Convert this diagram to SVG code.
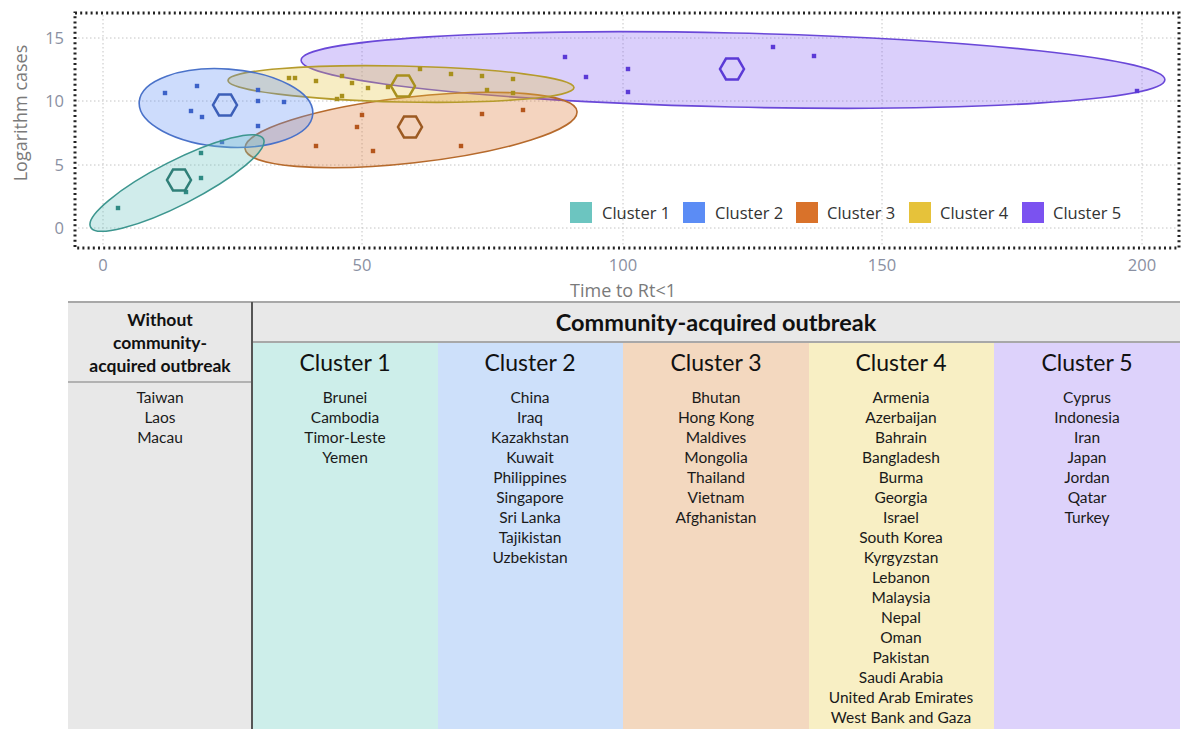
<svg xmlns="http://www.w3.org/2000/svg" xmlns:xlink="http://www.w3.org/1999/xlink" width="1183" height="729" viewBox="0 0 1183 729">
<style>
.grid{stroke:#c4c4c4;stroke-width:1;stroke-dasharray:1.5 2.5;fill:none}
.frame{stroke:#222;stroke-width:3;stroke-dasharray:2 3.2;fill:none}
.tick{font-family:"Open Sans","Liberation Sans",sans-serif;font-size:16.5px;fill:#8a90a2}
.axt{font-family:"Open Sans","Liberation Sans",sans-serif;font-size:18px;fill:#7a7a7a}
.leg{font-family:"Open Sans","Liberation Sans",sans-serif;font-size:16.5px;fill:#333}
.hex{fill:none;stroke-width:2.5}
.c1e{fill:#6cc5c0;fill-opacity:0.32;stroke:#3d968f;stroke-width:1.6}
.c2e{fill:#5b8cf5;fill-opacity:0.3;stroke:#4a72c9;stroke-width:1.6}
.c3e{fill:#d9722a;fill-opacity:0.3;stroke:#b66a2c;stroke-width:1.6}
.c4e{fill:#e6c23a;fill-opacity:0.3;stroke:#b59b2c;stroke-width:1.6}
.c5e{fill:#7b52f0;fill-opacity:0.28;stroke:#6a48d8;stroke-width:1.6}
.hd{font-family:Lato,"Open Sans",sans-serif;font-weight:bold;fill:#111}
.ct{font-family:Lato,"Open Sans",sans-serif;font-size:23px;fill:#111;text-anchor:middle}
.li{font-family:Lato,"Open Sans",sans-serif;font-size:15.5px;fill:#1a1a1a;text-anchor:middle}
</style>
<defs>
<path id="hx" d="M12,0 L6,-10.4 L-6,-10.4 L-12,0 L-6,10.4 L6,10.4 Z"/>
<rect id="pt" x="-2.2" y="-2.2" width="4.4" height="4.4"/>
</defs>
<rect width="1183" height="729" fill="#fff"/>

<g id="chart">
<g id="gridlines">
<line class="grid" x1="78" y1="38" x2="1177" y2="38"/>
<line class="grid" x1="78" y1="101" x2="1177" y2="101"/>
<line class="grid" x1="78" y1="165" x2="1177" y2="165"/>
<line class="grid" x1="78" y1="228" x2="1177" y2="228"/>
<line class="grid" x1="103" y1="15" x2="103" y2="246"/>
<line class="grid" x1="362" y1="15" x2="362" y2="246"/>
<line class="grid" x1="623" y1="15" x2="623" y2="246"/>
<line class="grid" x1="882" y1="15" x2="882" y2="246"/>
<line class="grid" x1="1142" y1="15" x2="1142" y2="246"/>
</g>
<rect class="frame" x="75" y="13" width="1104" height="235"/>
<g id="ticks">
<text class="tick" x="64" y="44" text-anchor="end">15</text>
<text class="tick" x="64" y="107" text-anchor="end">10</text>
<text class="tick" x="64" y="171" text-anchor="end">5</text>
<text class="tick" x="64" y="234" text-anchor="end">0</text>
<text class="tick" x="103" y="271" text-anchor="middle">0</text>
<text class="tick" x="362" y="271" text-anchor="middle">50</text>
<text class="tick" x="623" y="271" text-anchor="middle">100</text>
<text class="tick" x="882" y="271" text-anchor="middle">150</text>
<text class="tick" x="1142" y="271" text-anchor="middle">200</text>
<text class="axt" x="623" y="297" text-anchor="middle">Time to Rt&lt;1</text>
<text class="axt" transform="translate(27,113) rotate(-90)" text-anchor="middle">Logarithm cases</text>
</g>

<g id="cluster5">
<ellipse class="c5e" cx="733" cy="70" rx="432" ry="37" transform="rotate(1.3 733 70)"/>
<g fill="#5b3ad6">
<use xlink:href="#pt" x="565" y="57"/><use xlink:href="#pt" x="586" y="77"/>
<use xlink:href="#pt" x="628" y="69"/><use xlink:href="#pt" x="628" y="92"/>
<use xlink:href="#pt" x="773" y="47"/><use xlink:href="#pt" x="814" y="56"/>
<use xlink:href="#pt" x="1137" y="91"/>
</g>
<use xlink:href="#hx" class="hex" stroke="#5b3ad6" x="732" y="69"/>
</g>

<g id="cluster3">
<ellipse class="c3e" cx="411" cy="130" rx="167" ry="33" transform="rotate(-6.4 411 130)"/>
<g fill="#b5561c">
<use xlink:href="#pt" x="316" y="146"/><use xlink:href="#pt" x="362" y="115"/>
<use xlink:href="#pt" x="357" y="127"/><use xlink:href="#pt" x="373" y="151"/>
<use xlink:href="#pt" x="482" y="114"/><use xlink:href="#pt" x="523" y="110"/>
<use xlink:href="#pt" x="461" y="146"/>
</g>
<use xlink:href="#hx" class="hex" stroke="#9c5a22" x="410" y="127"/>
</g>

<g id="cluster4">
<ellipse class="c4e" cx="401" cy="84" rx="173" ry="18" transform="rotate(1.2 401 84)"/>
<g fill="#a8901c">
<use xlink:href="#pt" x="289" y="78"/><use xlink:href="#pt" x="295" y="78"/>
<use xlink:href="#pt" x="316" y="81"/><use xlink:href="#pt" x="342" y="76"/>
<use xlink:href="#pt" x="352" y="83"/><use xlink:href="#pt" x="368" y="88"/>
<use xlink:href="#pt" x="337" y="99"/><use xlink:href="#pt" x="342" y="96"/>
<use xlink:href="#pt" x="388" y="87"/><use xlink:href="#pt" x="420" y="69"/>
<use xlink:href="#pt" x="451" y="74"/><use xlink:href="#pt" x="482" y="76"/>
<use xlink:href="#pt" x="513" y="79"/><use xlink:href="#pt" x="487" y="90"/>
<use xlink:href="#pt" x="513" y="93"/>
</g>
<use xlink:href="#hx" class="hex" stroke="#a8901c" x="403" y="86"/>
</g>

<g id="cluster2">
<ellipse class="c2e" cx="226" cy="108" rx="87" ry="39" transform="rotate(4 226 108)"/>
<g fill="#3c62c8">
<use xlink:href="#pt" x="165" y="93"/><use xlink:href="#pt" x="197" y="86"/>
<use xlink:href="#pt" x="191" y="111"/><use xlink:href="#pt" x="202" y="117"/>
<use xlink:href="#pt" x="258" y="90"/><use xlink:href="#pt" x="258" y="101"/>
<use xlink:href="#pt" x="284" y="102"/><use xlink:href="#pt" x="258" y="126"/>
<use xlink:href="#pt" x="222" y="142"/>
</g>
<use xlink:href="#hx" class="hex" stroke="#3c5fb8" x="225" y="105"/>
</g>

<g id="cluster1">
<ellipse class="c1e" cx="177" cy="183" rx="97" ry="22" transform="rotate(-27 177 183)"/>
<g fill="#2f8a83">
<use xlink:href="#pt" x="118" y="208"/><use xlink:href="#pt" x="201" y="153"/>
<use xlink:href="#pt" x="201" y="178"/><use xlink:href="#pt" x="186" y="192"/>
</g>
<use xlink:href="#hx" class="hex" stroke="#2f7f78" x="179" y="180"/>
</g>

<g id="legend">
<rect x="570" y="202" width="22" height="21" fill="#6cc5c0"/>
<text class="leg" x="602" y="219">Cluster 1</text>
<rect x="683" y="202" width="22" height="21" fill="#5b8cf5"/>
<text class="leg" x="715" y="219">Cluster 2</text>
<rect x="796" y="202" width="22" height="21" fill="#d9722a"/>
<text class="leg" x="827" y="219">Cluster 3</text>
<rect x="909" y="202" width="22" height="21" fill="#e6c23a"/>
<text class="leg" x="940" y="219">Cluster 4</text>
<rect x="1022" y="202" width="22" height="21" fill="#7b52f0"/>
<text class="leg" x="1053" y="219">Cluster 5</text>
</g>
</g>

<g id="table">
<rect x="68" y="302" width="1112" height="40" fill="#e8e8e8"/>
<rect x="68" y="342" width="184" height="387" fill="#e8e8e8"/>
<rect x="252" y="342" width="186" height="387" fill="#cdeeea"/>
<rect x="438" y="342" width="185" height="387" fill="#cde0fa"/>
<rect x="623" y="342" width="186" height="387" fill="#f3d8bf"/>
<rect x="809" y="342" width="185" height="387" fill="#f8efc4"/>
<rect x="994" y="342" width="186" height="387" fill="#ddd2fb"/>
<line x1="68" y1="302" x2="1180" y2="302" stroke="#a8a8a8" stroke-width="2"/>
<line x1="252" y1="342" x2="1180" y2="342" stroke="#a8a8a8" stroke-width="2"/>
<line x1="68" y1="382" x2="252" y2="382" stroke="#a0a0a0" stroke-width="1.5"/>
<line x1="252" y1="302" x2="252" y2="729" stroke="#555" stroke-width="2"/>

<g id="hdr-left">
<text class="hd" font-size="17.5" text-anchor="middle" x="160" y="326">Without</text>
<text class="hd" font-size="17.5" text-anchor="middle" x="160" y="349">community-</text>
<text class="hd" font-size="17.5" text-anchor="middle" x="160" y="372">acquired outbreak</text>
</g>
<text class="hd" font-size="23.5" text-anchor="middle" x="716" y="331">Community-acquired outbreak</text>

<g id="col0">
<text class="li" x="160" y="403">Taiwan</text>
<text class="li" x="160" y="423">Laos</text>
<text class="li" x="160" y="443">Macau</text>
</g>
<g id="col1">
<text class="ct" x="345" y="371">Cluster 1</text>
<text class="li" x="345" y="403">Brunei</text>
<text class="li" x="345" y="423">Cambodia</text>
<text class="li" x="345" y="443">Timor-Leste</text>
<text class="li" x="345" y="463">Yemen</text>
</g>
<g id="col2">
<text class="ct" x="530" y="371">Cluster 2</text>
<text class="li" x="530" y="403">China</text>
<text class="li" x="530" y="423">Iraq</text>
<text class="li" x="530" y="443">Kazakhstan</text>
<text class="li" x="530" y="463">Kuwait</text>
<text class="li" x="530" y="483">Philippines</text>
<text class="li" x="530" y="503">Singapore</text>
<text class="li" x="530" y="523">Sri Lanka</text>
<text class="li" x="530" y="543">Tajikistan</text>
<text class="li" x="530" y="563">Uzbekistan</text>
</g>
<g id="col3">
<text class="ct" x="716" y="371">Cluster 3</text>
<text class="li" x="716" y="403">Bhutan</text>
<text class="li" x="716" y="423">Hong Kong</text>
<text class="li" x="716" y="443">Maldives</text>
<text class="li" x="716" y="463">Mongolia</text>
<text class="li" x="716" y="483">Thailand</text>
<text class="li" x="716" y="503">Vietnam</text>
<text class="li" x="716" y="523">Afghanistan</text>
</g>
<g id="col4">
<text class="ct" x="901" y="371">Cluster 4</text>
<text class="li" x="901" y="403">Armenia</text>
<text class="li" x="901" y="423">Azerbaijan</text>
<text class="li" x="901" y="443">Bahrain</text>
<text class="li" x="901" y="463">Bangladesh</text>
<text class="li" x="901" y="483">Burma</text>
<text class="li" x="901" y="503">Georgia</text>
<text class="li" x="901" y="523">Israel</text>
<text class="li" x="901" y="543">South Korea</text>
<text class="li" x="901" y="563">Kyrgyzstan</text>
<text class="li" x="901" y="583">Lebanon</text>
<text class="li" x="901" y="603">Malaysia</text>
<text class="li" x="901" y="623">Nepal</text>
<text class="li" x="901" y="643">Oman</text>
<text class="li" x="901" y="663">Pakistan</text>
<text class="li" x="901" y="683">Saudi Arabia</text>
<text class="li" x="901" y="703">United Arab Emirates</text>
<text class="li" x="901" y="723">West Bank and Gaza</text>
</g>
<g id="col5">
<text class="ct" x="1087" y="371">Cluster 5</text>
<text class="li" x="1087" y="403">Cyprus</text>
<text class="li" x="1087" y="423">Indonesia</text>
<text class="li" x="1087" y="443">Iran</text>
<text class="li" x="1087" y="463">Japan</text>
<text class="li" x="1087" y="483">Jordan</text>
<text class="li" x="1087" y="503">Qatar</text>
<text class="li" x="1087" y="523">Turkey</text>
</g>
</g>
</svg>
